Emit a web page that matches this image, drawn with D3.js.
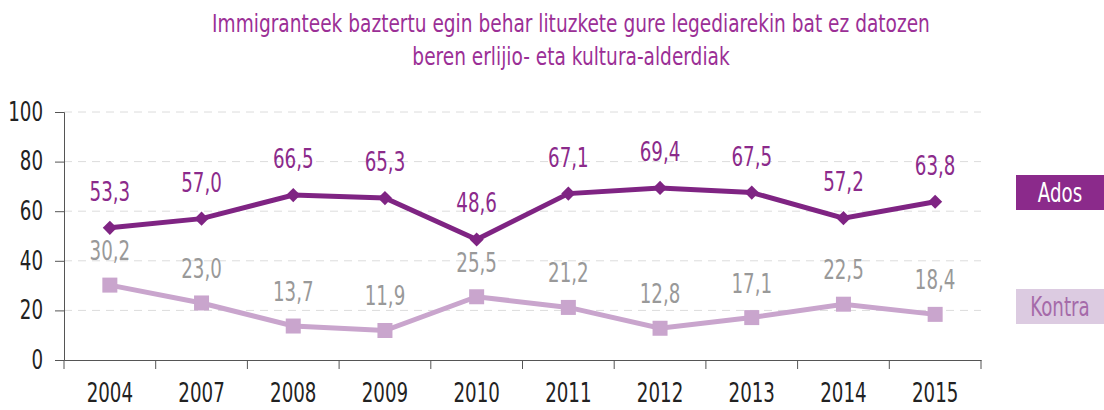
<!DOCTYPE html>
<html>
<head>
<meta charset="utf-8">
<script src="https://cdn.jsdelivr.net/npm/d3@7"></script>
<style>
  body { margin: 0; background: #fff; }
  text { font-family: "Liberation Sans Narrow", "DejaVu Sans Condensed", sans-serif; }
</style>
</head>
<body>
<div id="chart-area"></div>
<script>
var years = ["2004", "2007", "2008", "2009", "2010", "2011", "2012", "2013", "2014", "2015"]
var ados = [53.3, 57.0, 66.5, 65.3, 48.6, 67.1, 69.4, 67.5, 57.2, 63.8]
var kontra = [30.2, 23.0, 13.7, 11.9, 25.5, 21.2, 12.8, 17.1, 22.5, 18.4]
var yTicks = [0, 20, 40, 60, 80, 100]
var titleLines = ["Immigranteek baztertu egin behar lituzkete gure legediarekin bat ez datozen",
  "beren erlijio- eta kultura-alderdiak"]

var margin = { top: 112, left: 64 }
var width = 917
var height = 248
var sx = 0.78 // narrow the font, the original uses a condensed face

var svg = d3.select("#chart-area")
  .append("svg")
  .attr("width", 1104)
  .attr("height", 410)

// put a text at (x, y) squeezed horizontally
function place(x, y, s) {
  return "translate(" + x + "," + y + ") scale(" + (s || sx) + ",1)"
}

// title
svg.selectAll(".title")
  .data(titleLines)
  .enter()
  .append("text")
  .attr("class", "title")
  .attr("transform", (d, i) => place(571, 32 + i * 33, 0.86))
  .attr("text-anchor", "middle")
  .attr("font-size", "24px")
  .attr("fill", "#9b2f96")
  .text(d => d)

var g = svg.append("g")
  .attr("transform", "translate(" + margin.left + "," + margin.top + ")")

var x = d3.scaleBand()
  .domain(years)
  .range([0, width])

var y = d3.scaleLinear()
  .domain([0, 100])
  .range([height, 0])

// grid
g.selectAll(".grid")
  .data(yTicks.filter(d => d > 0))
  .enter()
  .append("line")
  .attr("x1", 0)
  .attr("x2", width)
  .attr("y1", d => y(d))
  .attr("y2", d => y(d))
  .attr("stroke", "#dcdcdc")
  .attr("stroke-width", 1)
  .attr("stroke-dasharray", "8,6")

// y axis
var yAxis = g.append("g")
  .call(d3.axisLeft(y).tickValues(yTicks).tickSize(9))
yAxis.select(".domain").attr("stroke", "#555")
yAxis.selectAll(".tick line").attr("stroke", "#555")
yAxis.selectAll("text")
  .attr("x", -21 / sx)
  .attr("transform", "scale(" + sx + ",1)")
  .attr("font-size", "26px")
  .attr("fill", "#222")
  .attr("font-family", null)

// x axis
var xAxis = g.append("g")
  .attr("transform", "translate(0," + height + ")")
  .call(d3.axisBottom(x).tickSize(0).tickPadding(24))
xAxis.select(".domain").attr("stroke", "#555")
xAxis.selectAll("text")
  .attr("transform", "scale(" + sx + ",1)")
  .attr("font-size", "26px")
  .attr("fill", "#222")
  .attr("font-family", null)
xAxis.selectAll(".sep")
  .data(years)
  .enter()
  .append("line")
  .attr("x1", d => x(d) + x.bandwidth())
  .attr("x2", d => x(d) + x.bandwidth())
  .attr("y1", 0)
  .attr("y2", 9)
  .attr("stroke", "#555")
xAxis.append("line")
  .attr("x1", 0).attr("x2", 0)
  .attr("y1", 0).attr("y2", 9)
  .attr("stroke", "#555")

var cx = d => x(d) + x.bandwidth() / 2

var line = d3.line()
  .x((d, i) => cx(years[i]))
  .y(d => y(d))

// kontra line
g.append("path")
  .datum(kontra)
  .attr("d", line)
  .attr("fill", "none")
  .attr("stroke", "#c9a5cd")
  .attr("stroke-width", 5)

g.selectAll(".ksq")
  .data(kontra)
  .enter()
  .append("rect")
  .attr("x", (d, i) => cx(years[i]) - 7.5)
  .attr("y", d => y(d) - 7.5)
  .attr("width", 15)
  .attr("height", 15)
  .attr("fill", "#c9a5cd")

g.selectAll(".klab")
  .data(kontra)
  .enter()
  .append("text")
  .attr("transform", (d, i) => place(cx(years[i]), y(d) - 25))
  .attr("text-anchor", "middle")
  .attr("font-size", "26px")
  .attr("fill", "#999")
  .text(d => d.toFixed(1).replace(".", ","))

// ados line
g.append("path")
  .datum(ados)
  .attr("d", line)
  .attr("fill", "none")
  .attr("stroke", "#7f2483")
  .attr("stroke-width", 5)

g.selectAll(".adia")
  .data(ados)
  .enter()
  .append("path")
  .attr("d", d3.symbol().type(d3.symbolSquare).size(100))
  .attr("transform", (d, i) => "translate(" + cx(years[i]) + "," + y(d) + ") rotate(45)")
  .attr("fill", "#7f2483")

g.selectAll(".alab")
  .data(ados)
  .enter()
  .append("text")
  .attr("transform", (d, i) => place(cx(years[i]), y(d) - 27))
  .attr("text-anchor", "middle")
  .attr("font-size", "26px")
  .attr("fill", "#8b2a8b")
  .text(d => d.toFixed(1).replace(".", ","))

// legend
var legend = [
  { name: "Ados", y: 175, fill: "#8b2a8b", color: "#fff" },
  { name: "Kontra", y: 289, fill: "#dccbe1", color: "#a56aa9" }
]
var lg = svg.selectAll(".leg")
  .data(legend)
  .enter()
  .append("g")
lg.append("rect")
  .attr("x", 1016)
  .attr("y", d => d.y)
  .attr("width", 88)
  .attr("height", 35)
  .attr("fill", d => d.fill)
lg.append("text")
  .attr("transform", d => place(1060, d.y + 27))
  .attr("text-anchor", "middle")
  .attr("font-size", "26px")
  .attr("fill", d => d.color)
  .text(d => d.name)
</script>
</body>
</html>
